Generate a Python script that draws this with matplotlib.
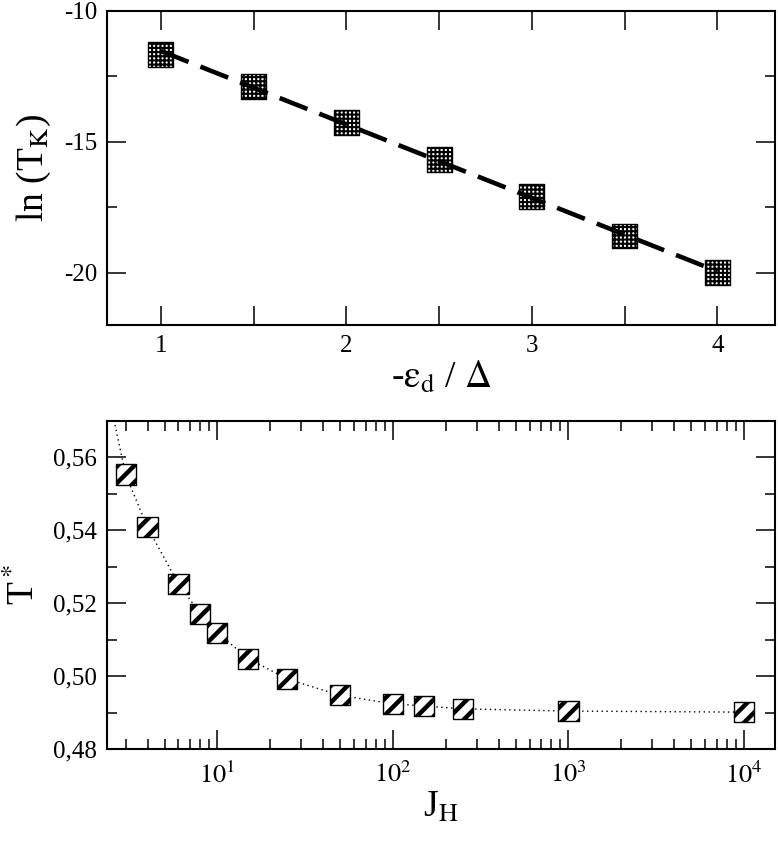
import matplotlib
matplotlib.use('Agg')
import matplotlib.pyplot as plt
import numpy as np
from matplotlib.ticker import MultipleLocator, FuncFormatter, LogLocator, NullFormatter

plt.rcParams['font.family'] = ['Liberation Serif', 'DejaVu Serif']
plt.rcParams['mathtext.fontset'] = 'stix'

#__________________DATA

eps_d = [1.0, 1.5, 2.0, 2.5, 3.0, 3.5, 4.0]
ln_tk = [-11.65, -12.88, -14.27, -15.69, -17.08, -18.6, -20.0]

j_h = [2, 3, 4, 6, 8, 10, 15, 25, 50, 100, 150, 250, 1000, 10000]
t_star = [0.595, 0.5553, 0.5408, 0.5253, 0.5171, 0.5119, 0.5048, 0.4992,
          0.4947, 0.4924, 0.4918, 0.4910, 0.4904, 0.4901]

#__________________FIGURE

fig = plt.figure(figsize=(7.78, 8.44), dpi=100)

def style(ax):
    for s in ax.spines.values():
        s.set_linewidth(1.5)
    ax.tick_params(which='both', direction='in', top=True, right=True,
                   width=1.1, labelsize=18, pad=7)
    ax.tick_params(which='major', length=13.5)
    ax.tick_params(which='minor', length=7)

# top panel
ax = fig.add_axes([0.1375, 0.6149, 0.8586, 0.3721])
style(ax)
with plt.rc_context({'hatch.linewidth': 1.5}):
    ax.scatter(eps_d, ln_tk, s=320, marker='s', facecolor='white',
               edgecolor='black', linewidth=1.0, hatch='++++', zorder=2)
p = np.polyfit(eps_d, ln_tk, 1)
xx = np.array([eps_d[0], eps_d[-1]])
ax.plot(xx, np.polyval(p, xx), color='black', lw=3.3, dashes=(6.5, 2.8),
        zorder=3)
ax.set_xlim(0.71, 4.31)
ax.set_ylim(-22, -10)
ax.xaxis.set_major_locator(MultipleLocator(0.5))
ax.xaxis.set_major_formatter(FuncFormatter(
    lambda v, pos: '%d' % v if abs(v - round(v)) < 1e-6 else ''))
ax.yaxis.set_major_locator(MultipleLocator(5))
ax.yaxis.set_minor_locator(MultipleLocator(2.5))
ax.yaxis.set_major_formatter(FuncFormatter(lambda v, pos: '%d' % v))
ax.set_xlabel(r'-$\mathrm{\epsilon}_\mathrm{d}$ / $\Delta$', fontsize=27, labelpad=2)
ax.set_ylabel(r'ln (T$_\mathrm{K}$)', fontsize=27, labelpad=8)

# bottom panel
ax = fig.add_axes([0.1375, 0.1126, 0.8586, 0.3886])
style(ax)
ax.plot(j_h, t_star, color='black', lw=1.0, ls=(0, (1, 2.5)), zorder=1)
with plt.rc_context({'hatch.linewidth': 3.2}):
    ax.scatter(j_h, t_star, s=210, marker='s', facecolor='white',
               edgecolor='black', linewidth=1.0, hatch='//', zorder=2)
ax.set_xscale('log')
ax.set_xlim(2.35, 15000)
ax.set_ylim(0.48, 0.57)
ax.xaxis.set_major_locator(LogLocator(base=10, numticks=10))
ax.xaxis.set_minor_locator(LogLocator(base=10, subs=np.arange(2, 10), numticks=20))
ax.xaxis.set_minor_formatter(NullFormatter())
ax.xaxis.set_major_formatter(FuncFormatter(
    lambda v, pos: r'$10^{%d}$' % round(np.log10(v))))
ax.yaxis.set_major_locator(MultipleLocator(0.02))
ax.yaxis.set_minor_locator(MultipleLocator(0.01))
ax.yaxis.set_major_formatter(FuncFormatter(
    lambda v, pos: ('%.2f' % v).replace('.', ',')))
ax.tick_params(axis='x', which='major', labelsize=19, pad=9)
ax.set_xlabel(r'J$_\mathrm{H}$', fontsize=27, labelpad=2)
ax.set_ylabel(r'T$^*$', fontsize=27, labelpad=8)

plt.savefig('out.png', dpi=100)
plt.close()
